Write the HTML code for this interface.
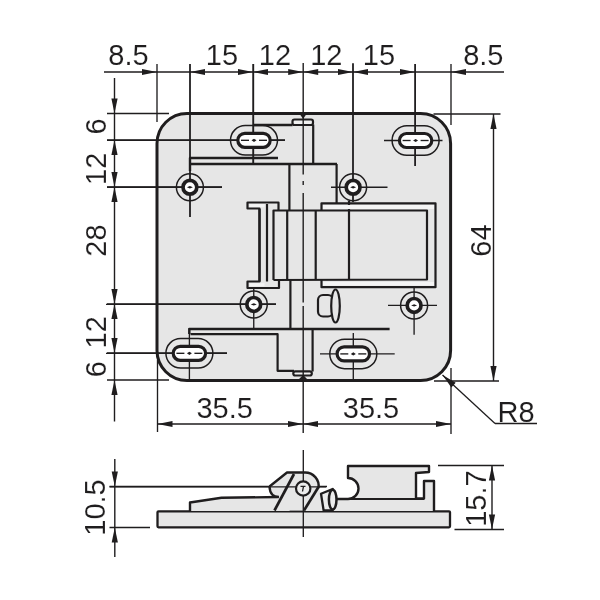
<!DOCTYPE html>
<html><head><meta charset="utf-8"><style>
html,body{margin:0;padding:0;background:#fff;width:600px;height:600px;overflow:hidden}
svg{display:block;will-change:transform}
text{font-family:"Liberation Sans",sans-serif;stroke:#fff;stroke-width:0.1px}
</style></head><body>
<svg width="600" height="600" viewBox="0 0 600 600">
<rect x="157" y="113.5" width="293.6" height="267" rx="30" ry="30" fill="#e6e6e6" stroke="#1f1d1e" stroke-width="3"/>
<line x1="104" y1="72" x2="504" y2="72" stroke="#1f1d1e" stroke-width="1.4" />
<line x1="157" y1="64" x2="157" y2="122" stroke="#1f1d1e" stroke-width="1.35" />
<line x1="190" y1="64" x2="190" y2="217" stroke="#1f1d1e" stroke-width="1.35" />
<line x1="253" y1="64" x2="253" y2="163" stroke="#1f1d1e" stroke-width="1.35" />
<line x1="353" y1="64" x2="353" y2="202" stroke="#1f1d1e" stroke-width="1.35" />
<line x1="415" y1="64" x2="415" y2="166" stroke="#1f1d1e" stroke-width="1.35" />
<line x1="451" y1="64" x2="451" y2="125" stroke="#1f1d1e" stroke-width="1.35" />
<polygon points="157.0,72.0 142.0,68.9 142.0,75.1" fill="#1f1d1e"/>
<polygon points="190.0,72.0 205.0,68.9 205.0,75.1" fill="#1f1d1e"/>
<polygon points="253.0,72.0 238.0,68.9 238.0,75.1" fill="#1f1d1e"/>
<polygon points="253.0,72.0 268.0,68.9 268.0,75.1" fill="#1f1d1e"/>
<polygon points="303.2,72.0 288.2,68.9 288.2,75.1" fill="#1f1d1e"/>
<polygon points="303.2,72.0 318.2,68.9 318.2,75.1" fill="#1f1d1e"/>
<polygon points="353.0,72.0 338.0,68.9 338.0,75.1" fill="#1f1d1e"/>
<polygon points="353.0,72.0 368.0,68.9 368.0,75.1" fill="#1f1d1e"/>
<polygon points="415.0,72.0 400.0,68.9 400.0,75.1" fill="#1f1d1e"/>
<polygon points="451.0,72.0 466.0,68.9 466.0,75.1" fill="#1f1d1e"/>
<text x="128.5" y="64.7" font-size="29" text-anchor="middle" fill="#1f1d1e">8.5</text>
<text x="222" y="64.7" font-size="29" text-anchor="middle" fill="#1f1d1e">15</text>
<text x="275" y="64.7" font-size="29" text-anchor="middle" fill="#1f1d1e">12</text>
<text x="326.3" y="64.7" font-size="29" text-anchor="middle" fill="#1f1d1e">12</text>
<text x="379" y="64.7" font-size="29" text-anchor="middle" fill="#1f1d1e">15</text>
<text x="483.3" y="64.7" font-size="29" text-anchor="middle" fill="#1f1d1e">8.5</text>
<line x1="114.5" y1="78" x2="114.5" y2="421.5" stroke="#1f1d1e" stroke-width="1.4" />
<line x1="107" y1="113.5" x2="169" y2="113.5" stroke="#1f1d1e" stroke-width="1.35" />
<line x1="107" y1="140" x2="285" y2="140" stroke="#1f1d1e" stroke-width="1.35" />
<line x1="107" y1="187" x2="222" y2="187" stroke="#1f1d1e" stroke-width="1.35" />
<line x1="107" y1="304" x2="276" y2="304" stroke="#1f1d1e" stroke-width="1.35" />
<line x1="107" y1="353" x2="227" y2="353" stroke="#1f1d1e" stroke-width="1.35" />
<line x1="107" y1="380" x2="169" y2="380" stroke="#1f1d1e" stroke-width="1.35" />
<polygon points="114.5,113.5 111.4,98.5 117.6,98.5" fill="#1f1d1e"/>
<polygon points="114.5,140.0 111.4,155.0 117.6,155.0" fill="#1f1d1e"/>
<polygon points="114.5,187.0 111.4,172.0 117.6,172.0" fill="#1f1d1e"/>
<polygon points="114.5,187.0 111.4,202.0 117.6,202.0" fill="#1f1d1e"/>
<polygon points="114.5,304.0 111.4,289.0 117.6,289.0" fill="#1f1d1e"/>
<polygon points="114.5,304.0 111.4,319.0 117.6,319.0" fill="#1f1d1e"/>
<polygon points="114.5,353.0 111.4,338.0 117.6,338.0" fill="#1f1d1e"/>
<polygon points="114.5,380.0 111.4,395.0 117.6,395.0" fill="#1f1d1e"/>
<text x="0" y="0" transform="translate(106,126.5) rotate(-90)" font-size="29" text-anchor="middle" fill="#1f1d1e">6</text>
<text x="0" y="0" transform="translate(106,168.8) rotate(-90)" font-size="29" text-anchor="middle" fill="#1f1d1e">12</text>
<text x="0" y="0" transform="translate(106,240.6) rotate(-90)" font-size="29" text-anchor="middle" fill="#1f1d1e">28</text>
<text x="0" y="0" transform="translate(106,332.3) rotate(-90)" font-size="29" text-anchor="middle" fill="#1f1d1e">12</text>
<text x="0" y="0" transform="translate(106,369.3) rotate(-90)" font-size="29" text-anchor="middle" fill="#1f1d1e">6</text>
<line x1="433.5" y1="114" x2="500.5" y2="114" stroke="#1f1d1e" stroke-width="1.35" />
<line x1="434" y1="381" x2="499" y2="381" stroke="#1f1d1e" stroke-width="1.35" />
<line x1="493.5" y1="114" x2="493.5" y2="381" stroke="#1f1d1e" stroke-width="1.4" />
<polygon points="493.5,114.0 490.4,129.0 496.6,129.0" fill="#1f1d1e"/>
<polygon points="493.5,381.0 490.4,366.0 496.6,366.0" fill="#1f1d1e"/>
<text x="0" y="0" transform="translate(490.5,240.5) rotate(-90)" font-size="29" text-anchor="middle" fill="#1f1d1e">64</text>
<line x1="157.5" y1="360" x2="157.5" y2="432" stroke="#1f1d1e" stroke-width="1.35" />
<line x1="451" y1="368" x2="451" y2="434" stroke="#1f1d1e" stroke-width="1.35" />
<line x1="157.5" y1="424" x2="451" y2="424" stroke="#1f1d1e" stroke-width="1.4" />
<polygon points="157.5,424.0 172.5,420.9 172.5,427.1" fill="#1f1d1e"/>
<polygon points="303.0,424.0 288.0,420.9 288.0,427.1" fill="#1f1d1e"/>
<polygon points="303.0,424.0 318.0,420.9 318.0,427.1" fill="#1f1d1e"/>
<polygon points="451.0,424.0 436.0,420.9 436.0,427.1" fill="#1f1d1e"/>
<text x="224.7" y="418" font-size="29" text-anchor="middle" fill="#1f1d1e">35.5</text>
<text x="371" y="418" font-size="29" text-anchor="middle" fill="#1f1d1e">35.5</text>
<line x1="442.5" y1="375.0" x2="495" y2="423.5" stroke="#1f1d1e" stroke-width="1.3" />
<line x1="495" y1="423.5" x2="537" y2="423.5" stroke="#1f1d1e" stroke-width="1.3" />
<polygon points="442.5,375.0 451.35,387.53 455.69,382.83" fill="#1f1d1e"/>
<text x="516" y="421.5" font-size="29" text-anchor="middle" fill="#1f1d1e">R8</text>
<path d="M278,158 L190,158 L190,171" fill="none" stroke="#1f1d1e" stroke-width="2.4" stroke-linejoin="round"/>
<path d="M190,164 L337,164" fill="none" stroke="#1f1d1e" stroke-width="2.4" stroke-linejoin="round"/>
<path d="M254,125 L292.5,125" fill="none" stroke="#1f1d1e" stroke-width="2.4" stroke-linejoin="round"/>
<rect x="292.5" y="119.5" width="20.5" height="5.5" rx="2" fill="#f0f0f0" stroke="#1f1d1e" stroke-width="2.2"/>
<path d="M313.2,124.5 L313.2,164" fill="none" stroke="#1f1d1e" stroke-width="2.2" stroke-linejoin="round"/>
<path d="M289.4,164 L289.4,210" fill="none" stroke="#1f1d1e" stroke-width="2.2" stroke-linejoin="round"/>
<path d="M336.6,164 L336.6,203" fill="none" stroke="#1f1d1e" stroke-width="2.2" stroke-linejoin="round"/>
<rect x="249.5" y="204.2" width="15" height="3" fill="#f4f4f4"/>
<rect x="249.5" y="283.2" width="15" height="3" fill="#f4f4f4"/>
<path d="M259.5,281.5 L259.5,208.5 L247.5,208.5 L247.5,202.5 L278.5,202.5 L278.5,210.5" fill="none" stroke="#1f1d1e" stroke-width="2.2" stroke-linejoin="round"/>
<path d="M259.5,209 L259.5,281.5 L247.5,281.5 L247.5,288 L279,288 L279,280" fill="none" stroke="#1f1d1e" stroke-width="2.2" stroke-linejoin="round"/>
<path d="M267,204 L267,281.5" fill="none" stroke="#1f1d1e" stroke-width="2.2" stroke-linejoin="round"/>
<path d="M273.5,280 L273.5,210.5 L427,210.5 L427,279.5 L273.5,280" fill="none" stroke="#1f1d1e" stroke-width="2.2" stroke-linejoin="round"/>
<path d="M287.2,210.5 L287.2,280" fill="none" stroke="#1f1d1e" stroke-width="2.2" stroke-linejoin="round"/>
<path d="M315.7,210.5 L315.7,280" fill="none" stroke="#1f1d1e" stroke-width="2.2" stroke-linejoin="round"/>
<path d="M349,210.5 L349,280" fill="none" stroke="#1f1d1e" stroke-width="2.2" stroke-linejoin="round"/>
<path d="M349,201 L349,210.5" fill="none" stroke="#1f1d1e" stroke-width="2.2" stroke-linejoin="round"/>
<rect x="323" y="205" width="111" height="4" fill="#f4f4f4"/>
<rect x="323" y="282" width="111" height="3.5" fill="#f4f4f4"/>
<path d="M321.5,210.5 L321.5,203.3 L435.5,203.3 L435.5,287.2 L321.5,287.2 L321.5,280" fill="none" stroke="#1f1d1e" stroke-width="2.2" stroke-linejoin="round"/>
<path d="M389.6,329 L189.3,329 L189.3,334" fill="none" stroke="#1f1d1e" stroke-width="2.4" stroke-linejoin="round"/>
<path d="M190.5,334.2 L277.6,334.2 L277.6,370.8 L294,370.8" fill="none" stroke="#1f1d1e" stroke-width="2.2" stroke-linejoin="round"/>
<path d="M290.4,280 L290.4,329" fill="none" stroke="#1f1d1e" stroke-width="2.2" stroke-linejoin="round"/>
<path d="M312.6,329 L312.6,371.5" fill="none" stroke="#1f1d1e" stroke-width="2.2" stroke-linejoin="round"/>
<rect x="293.3" y="371.3" width="18.5" height="4.2" rx="2" fill="#f0f0f0" stroke="#1f1d1e" stroke-width="2.2"/>
<rect x="318" y="295" width="15" height="21.5" rx="5" fill="#e6e6e6" stroke="#1f1d1e" stroke-width="2.2"/>
<ellipse cx="335.5" cy="306" rx="4.3" ry="16.5" fill="#e6e6e6" stroke="#1f1d1e" stroke-width="2.2"/>
<line x1="190" y1="64" x2="190" y2="217" stroke="#1f1d1e" stroke-width="1.35" />
<line x1="107" y1="187.25" x2="222" y2="187.25" stroke="#1f1d1e" stroke-width="1.35" />
<line x1="253.5" y1="64" x2="253.5" y2="163" stroke="#1f1d1e" stroke-width="1.35" />
<line x1="107" y1="140.3" x2="285" y2="140.3" stroke="#1f1d1e" stroke-width="1.35" />
<line x1="331" y1="187.25" x2="387.5" y2="187.25" stroke="#1f1d1e" stroke-width="1.35" />
<line x1="353" y1="63" x2="353" y2="202" stroke="#1f1d1e" stroke-width="1.35" />
<line x1="384" y1="140.5" x2="442.5" y2="140.5" stroke="#1f1d1e" stroke-width="1.35" />
<line x1="415.3" y1="64" x2="415.3" y2="166" stroke="#1f1d1e" stroke-width="1.35" />
<line x1="106" y1="304.4" x2="276" y2="304.4" stroke="#1f1d1e" stroke-width="1.35" />
<line x1="253.75" y1="288" x2="253.75" y2="328" stroke="#1f1d1e" stroke-width="1.35" />
<line x1="388" y1="305.4" x2="437" y2="305.4" stroke="#1f1d1e" stroke-width="1.35" />
<line x1="414.1" y1="288" x2="414.1" y2="334.7" stroke="#1f1d1e" stroke-width="1.35" />
<line x1="106" y1="353.3" x2="227" y2="353.3" stroke="#1f1d1e" stroke-width="1.35" />
<line x1="189.4" y1="328" x2="189.4" y2="380" stroke="#1f1d1e" stroke-width="1.35" />
<line x1="320" y1="353.9" x2="394.7" y2="353.9" stroke="#1f1d1e" stroke-width="1.35" />
<line x1="353.3" y1="333" x2="353.3" y2="380" stroke="#1f1d1e" stroke-width="1.35" />
<rect x="230.5" y="125.55000000000001" width="47" height="29.5" rx="14.75" fill="none" stroke="#1f1d1e" stroke-width="1.5"/>
<rect x="237.8" y="133.3" width="32.4" height="14" rx="7" fill="#fff" stroke="#1f1d1e" stroke-width="3.2"/>
<line x1="241" y1="140.3" x2="249" y2="140.3" stroke="#1f1d1e" stroke-width="1.35" />
<line x1="259" y1="140.3" x2="267" y2="140.3" stroke="#1f1d1e" stroke-width="1.35" />
<polygon points="251.5,140.3 254,138.70000000000002 256.5,140.3 254,141.9" fill="#1f1d1e"/>
<rect x="392.1" y="125.75" width="47" height="29.5" rx="14.75" fill="none" stroke="#1f1d1e" stroke-width="1.5"/>
<rect x="399.40000000000003" y="133.5" width="32.4" height="14" rx="7" fill="#fff" stroke="#1f1d1e" stroke-width="3.2"/>
<line x1="402.6" y1="140.5" x2="410.6" y2="140.5" stroke="#1f1d1e" stroke-width="1.35" />
<line x1="420.6" y1="140.5" x2="428.6" y2="140.5" stroke="#1f1d1e" stroke-width="1.35" />
<polygon points="413.1,140.5 415.6,138.9 418.1,140.5 415.6,142.1" fill="#1f1d1e"/>
<rect x="165.9" y="338.55" width="47" height="29.5" rx="14.75" fill="none" stroke="#1f1d1e" stroke-width="1.5"/>
<rect x="173.20000000000002" y="346.3" width="32.4" height="14" rx="7" fill="#fff" stroke="#1f1d1e" stroke-width="3.2"/>
<line x1="176.4" y1="353.3" x2="184.4" y2="353.3" stroke="#1f1d1e" stroke-width="1.35" />
<line x1="194.4" y1="353.3" x2="202.4" y2="353.3" stroke="#1f1d1e" stroke-width="1.35" />
<polygon points="186.9,353.3 189.4,351.7 191.9,353.3 189.4,354.90000000000003" fill="#1f1d1e"/>
<rect x="329.8" y="339.15" width="47" height="29.5" rx="14.75" fill="none" stroke="#1f1d1e" stroke-width="1.5"/>
<rect x="337.1" y="346.9" width="32.4" height="14" rx="7" fill="#fff" stroke="#1f1d1e" stroke-width="3.2"/>
<line x1="340.3" y1="353.9" x2="348.3" y2="353.9" stroke="#1f1d1e" stroke-width="1.35" />
<line x1="358.3" y1="353.9" x2="366.3" y2="353.9" stroke="#1f1d1e" stroke-width="1.35" />
<polygon points="350.8,353.9 353.3,352.29999999999995 355.8,353.9 353.3,355.5" fill="#1f1d1e"/>
<circle cx="189.9" cy="187.25" r="13.5" fill="none" stroke="#1f1d1e" stroke-width="1.5"/>
<circle cx="189.9" cy="187.25" r="6.9" fill="#fff" stroke="#1f1d1e" stroke-width="3.7"/>
<polygon points="186.9,187.25 189.9,186.05 192.9,187.25 189.9,188.45" fill="#1f1d1e"/>
<circle cx="353.1" cy="187.25" r="13.5" fill="none" stroke="#1f1d1e" stroke-width="1.5"/>
<circle cx="353.1" cy="187.25" r="6.9" fill="#fff" stroke="#1f1d1e" stroke-width="3.7"/>
<polygon points="350.1,187.25 353.1,186.05 356.1,187.25 353.1,188.45" fill="#1f1d1e"/>
<circle cx="253.75" cy="304.4" r="13.5" fill="none" stroke="#1f1d1e" stroke-width="1.5"/>
<circle cx="253.75" cy="304.4" r="6.9" fill="#fff" stroke="#1f1d1e" stroke-width="3.7"/>
<polygon points="250.75,304.4 253.75,303.2 256.75,304.4 253.75,305.59999999999997" fill="#1f1d1e"/>
<circle cx="414.1" cy="305.4" r="13.5" fill="none" stroke="#1f1d1e" stroke-width="1.5"/>
<circle cx="414.1" cy="305.4" r="6.9" fill="#fff" stroke="#1f1d1e" stroke-width="3.7"/>
<polygon points="411.1,305.4 414.1,304.2 417.1,305.4 414.1,306.59999999999997" fill="#1f1d1e"/>
<line x1="303.2" y1="63" x2="303.2" y2="174.5" stroke="#1f1d1e" stroke-width="1.4" />
<line x1="303.2" y1="181" x2="303.2" y2="185" stroke="#1f1d1e" stroke-width="1.4" />
<line x1="303.2" y1="193" x2="303.2" y2="302.5" stroke="#1f1d1e" stroke-width="1.4" />
<line x1="303.2" y1="306" x2="303.2" y2="433" stroke="#1f1d1e" stroke-width="1.4" />
<polygon points="299,113 307,113 303.2,119" fill="#1f1d1e"/>
<polygon points="298,380 308,380 303.2,375" fill="#1f1d1e"/>
<line x1="109.5" y1="486.5" x2="327" y2="486.5" stroke="#1f1d1e" stroke-width="1.35" />
<line x1="109.5" y1="527.5" x2="150" y2="527.5" stroke="#1f1d1e" stroke-width="1.35" />
<line x1="114.8" y1="459" x2="114.8" y2="557" stroke="#1f1d1e" stroke-width="1.4" />
<polygon points="114.8,486.5 111.7,471.5 117.9,471.5" fill="#1f1d1e"/>
<polygon points="114.8,527.5 111.7,542.5 117.9,542.5" fill="#1f1d1e"/>
<text x="0" y="0" transform="translate(104.7,507.5) rotate(-90)" font-size="29" text-anchor="middle" fill="#1f1d1e">10.5</text>
<rect x="157.5" y="511.3" width="292.5" height="16" rx="1" fill="#e6e6e6" stroke="#1f1d1e" stroke-width="2.3"/>
<path d="M190,511 L190,502.5 L221.5,497.8 L279,497 L290,511 Z" fill="#e6e6e6" stroke="none"/>
<path d="M190,511 L190,502.5 L221.5,497.8 L279,497" fill="none" stroke="#1f1d1e" stroke-width="2.4" stroke-linejoin="round"/>
<path d="M304,511 L318.5,487.5 L321,493.8 L337,499 L348,499 A10,10 0 0 0 348,478 L348,466 L429,466 L429,472 L416,473 L416,498.5 L424,498.5 L424,481 L434,481 L434,511 Z" fill="#e6e6e6" stroke="none"/>
<path d="M269.5,486.5 L287,472.5 L305,472.5 A13.5,13.5 0 0 1 318.5,488 L304,510.5 L274,510.5 L278,497 Q270,496 269.5,486.5 Z" fill="#e6e6e6" stroke="none"/>
<path d="M269.5,486.5 L287,472.5 L305,472.5 A13.5,13.5 0 0 1 318.5,488" fill="none" stroke="#1f1d1e" stroke-width="2.4" stroke-linejoin="round"/>
<path d="M269.5,486.5 Q270,497 279,497" fill="none" stroke="#1f1d1e" stroke-width="2.4"/>
<path d="M294,474 L274.5,510.5" fill="none" stroke="#1f1d1e" stroke-width="2.7" stroke-linejoin="round"/>
<line x1="109.5" y1="486.8" x2="326" y2="486.8" stroke="#1f1d1e" stroke-width="1.35" />
<path d="M318.5,487 L304,510.5" fill="none" stroke="#1f1d1e" stroke-width="2.7" stroke-linejoin="round"/>
<path d="M337,499 L348,499 A10,10 0 0 0 348,478 L348,466 L429,466 L429,472 L416,473 L416,498.5 L424,498.5 L424,481 L434,481 L434,511" fill="none" stroke="#1f1d1e" stroke-width="2.4" stroke-linejoin="round"/>
<path d="M338,499 L424,499" fill="none" stroke="#1f1d1e" stroke-width="2.2" stroke-linejoin="round"/>
<path d="M332.7,489 L321,493.8 L323.6,510.3 L332.7,510.3 Z" fill="#ececec" stroke="#1f1d1e" stroke-width="2.3" stroke-linejoin="round"/>
<ellipse cx="332.7" cy="499.6" rx="3.8" ry="9.9" fill="#ececec" stroke="#1f1d1e" stroke-width="2.5"/>
<line x1="303.3" y1="450" x2="303.3" y2="537" stroke="#1f1d1e" stroke-width="1.35" />
<circle cx="303.2" cy="488.5" r="7.2" fill="#ececec" stroke="#1f1d1e" stroke-width="2.2"/>
<path d="M300.5,486.3 L305.5,486.3 M303.5,486.3 L302.5,491.5" stroke="#1f1d1e" stroke-width="1.3" fill="none"/>
<line x1="438" y1="465.5" x2="504" y2="465.5" stroke="#1f1d1e" stroke-width="1.35" />
<line x1="454.5" y1="529.5" x2="504" y2="529.5" stroke="#1f1d1e" stroke-width="1.35" />
<line x1="492" y1="465.5" x2="492" y2="529.5" stroke="#1f1d1e" stroke-width="1.4" />
<polygon points="492.0,465.5 488.9,480.5 495.1,480.5" fill="#1f1d1e"/>
<polygon points="492.0,529.5 488.9,514.5 495.1,514.5" fill="#1f1d1e"/>
<text x="0" y="0" transform="translate(485.5,498.6) rotate(-90)" font-size="29" text-anchor="middle" fill="#1f1d1e">15.7</text>
</svg>
</body></html>
